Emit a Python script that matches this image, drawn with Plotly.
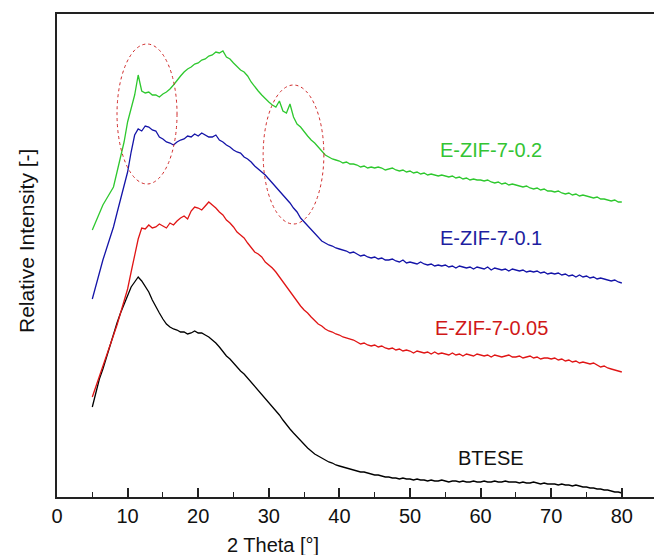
import plotly.graph_objects as go

theta = [5.0 + 0.5 * i for i in range(151)]

btese = [
    90, 105, 118, 128, 140, 150, 162, 174, 184, 193,
    203, 210, 215, 220, 216, 211, 205, 197, 190, 184,
    178, 173, 170, 168, 167, 165, 165, 163, 164, 166,
    164, 164, 162, 160, 157, 154, 150, 145, 141, 138,
    134, 129, 126, 123, 119, 115, 111, 106, 103, 99,
    95, 91, 86, 82, 77, 72, 68, 64, 60, 56,
    52, 49, 46, 43, 41, 39, 37, 35, 34, 32,
    31, 30, 29, 28, 27, 26, 25, 25, 24, 23,
    22, 22, 21, 20, 20, 19, 19, 18, 19, 18,
    18, 17, 18, 17, 17, 16, 17, 16, 16, 17,
    16, 15, 16, 16, 15, 16, 15, 15, 16, 15,
    15, 16, 15, 15, 16, 15, 15, 16, 15, 15,
    15, 14, 15, 14, 14, 15, 14, 13, 14, 13,
    13, 13, 12, 13, 12, 12, 11, 12, 11, 10,
    10, 9, 9, 8, 8, 7, 7, 6, 5, 5,
    4,
]

zif_005 = [
    100, 110, 122, 131, 142, 151, 162, 172, 184, 195,
    208, 225, 240, 258, 269, 268, 272, 269, 270, 273,
    271, 269, 274, 272, 276, 279, 281, 278, 286, 290,
    289, 287, 291, 295, 292, 289, 285, 282, 277, 274,
    270, 265, 262, 259, 254, 249, 245, 243, 240, 235,
    232, 229, 225, 220, 215, 211, 205, 200, 195, 191,
    187, 184, 180, 176, 173, 171, 168, 166, 165, 163,
    162, 160, 159, 158, 157, 155, 153, 154, 152, 151,
    152, 150, 151, 149, 148, 149, 147, 148, 146, 147,
    146, 144, 146, 145, 144, 145, 143, 145, 143, 144,
    143, 142, 144, 142, 143, 141, 143, 142, 141, 143,
    142, 141, 142, 140, 142, 141, 140, 141, 142, 140,
    140, 141, 139, 140, 141, 139, 140, 138, 139, 139,
    138, 139, 137, 138, 136, 137, 135, 136, 134, 135,
    134, 133, 134, 132, 130, 131, 129, 128, 127, 126,
    125,
]

zif_01 = [
    198, 212, 225, 237, 248, 259, 270, 284, 298, 311,
    325, 345, 362, 368, 366, 371, 370, 367, 366, 360,
    358, 355, 354, 352, 355, 357, 358, 361, 360, 363,
    361, 364, 362, 360, 360, 362, 357, 355, 352, 350,
    347, 345, 344, 340, 338, 335, 331, 328, 325, 322,
    318, 314, 310, 307, 302, 298, 294, 289, 285, 279,
    275, 272, 268, 263, 260, 256, 254, 252, 251, 249,
    248, 247, 246, 244, 245, 243, 241, 242, 240, 239,
    240, 238, 239, 237, 237, 238, 236, 235, 237, 234,
    235, 234, 233, 235, 233, 232, 233, 231, 232, 231,
    232, 230, 231, 229, 231, 230, 229, 230, 228, 230,
    229, 228, 230, 227, 229, 228, 227, 228, 226, 228,
    227, 226, 227, 225, 226, 225, 226, 224, 225, 223,
    224, 223, 224, 222, 223, 221, 222, 220, 222, 220,
    221, 219, 220, 218, 219, 218, 217, 216, 217, 215,
    214,
]

zif_02 = [
    267, 276, 285, 292, 298, 304, 310, 325, 340, 355,
    375, 390, 402, 422, 406, 404, 405, 402, 402, 400,
    403, 405, 408, 412, 417, 421, 425, 428, 430, 433,
    434, 437, 438, 441, 442, 445, 444, 446, 440, 438,
    434, 430, 427, 425, 421, 415, 410, 406, 402, 398,
    395, 392, 390, 396, 386, 384, 393, 380, 373, 370,
    365, 361, 357, 354, 350, 346, 342, 340, 338, 337,
    336, 334, 335, 333, 333, 332, 330, 331, 329, 330,
    329, 330, 329, 327, 328, 329, 327, 326, 327, 325,
    326, 324, 325, 323, 324, 322, 323, 322, 321, 322,
    321, 320, 321, 319, 320, 318, 319, 317, 318, 317,
    317, 316, 317, 315, 314, 315, 313, 314, 312, 313,
    312, 311, 310, 311, 309, 308, 309, 307, 308, 306,
    306, 305, 306, 304, 303, 304, 302, 303, 301, 302,
    301, 300, 299, 300, 298, 298, 297, 296, 297, 295,
    295,
]

series_names = ["BTESE", "E-ZIF-7-0.05", "E-ZIF-7-0.1", "E-ZIF-7-0.2"]
series_values = [btese, zif_005, zif_01, zif_02]
line_colors = ["#000000", "#e01515", "#1414a8", "#2ec82e"]
text_colors = ["#111111", "#d01818", "#1e1ea0", "#33c433"]
label_x = [61.5, 61.5, 61.5, 61.5]
label_y = [39, 169, 259, 347]

# highlighted regions (x0, x1, y0, y1)
ellipses = [(8.5, 17.0, 313, 453), (29.2, 37.8, 273, 412)]

x_ticks = [0, 10, 20, 30, 40, 50, 60, 70, 80]

FONT = "Arial, 'Liberation Sans', sans-serif"

fig = go.Figure()
for name, vals, col in zip(series_names, series_values, line_colors):
    fig.add_trace(go.Scatter(x=theta, y=vals, mode="lines", name=name,
                             line=dict(color=col, width=1.3)))

for name, lx, ly, tc in zip(series_names, label_x, label_y, text_colors):
    fig.add_annotation(x=lx, y=ly, text=name, showarrow=False,
                       font=dict(family=FONT, size=20, color=tc),
                       xanchor="center", yanchor="middle")

for x0, x1, y0, y1 in ellipses:
    fig.add_shape(type="circle", xref="x", yref="y", x0=x0, x1=x1, y0=y0, y1=y1,
                  line=dict(color="#d02a2a", width=1, dash="dot"))

# axis titles placed as in the reference
fig.add_annotation(text="2 Theta [°]", xref="paper", yref="paper",
                   x=(272.5 - 57) / 597, y=-(545 - 497) / 483,
                   xanchor="center", yanchor="middle", showarrow=False,
                   font=dict(family=FONT, size=20, color="#111"))
fig.add_annotation(text="Relative Intensity [-]", xref="paper", yref="paper",
                   x=(27 - 57) / 597, y=(497 - 241) / 483, textangle=-90,
                   xanchor="center", yanchor="middle", showarrow=False,
                   font=dict(family=FONT, size=21, color="#111"))

fig.update_layout(
    width=654, height=555,
    margin=dict(l=57, r=0, t=14, b=58),
    paper_bgcolor="white", plot_bgcolor="white",
    showlegend=False,
    font=dict(family=FONT, size=20, color="#111"),
)
fig.update_xaxes(
    range=[0, 84.56], tickvals=x_ticks, ticktext=[str(v) for v in x_ticks],
    ticks="inside", ticklen=9, tickwidth=1.5, tickcolor="#222",
    minor=dict(ticks="inside", ticklen=5, dtick=5, tick0=0, tickwidth=1.2, tickcolor="#222"),
    showline=True, linecolor="#222", linewidth=1.8, mirror=True,
    showgrid=False, zeroline=False,
    tickfont=dict(family=FONT, size=20, color="#111"),
)
fig.update_yaxes(
    range=[0, 483], showticklabels=False, ticks="",
    showline=True, linecolor="#222", linewidth=1.8, mirror=False,
    showgrid=False, zeroline=False,
)

fig.write_html("out.html")
